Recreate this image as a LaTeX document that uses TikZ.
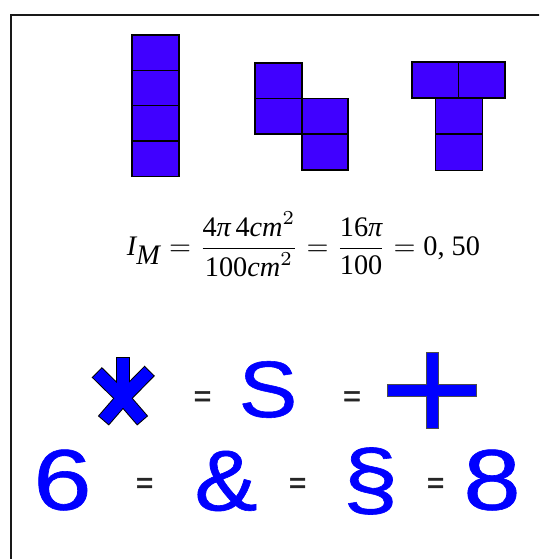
\documentclass[tikz,border=0pt]{standalone}
\usepackage{fontspec}
\setmainfont{Liberation Serif}
\newfontfamily\arialf{Liberation Sans}[FakeBold=0.7]
\newfontfamily\arialeq{Liberation Sans}[FakeBold=1.5]
\definecolor{tetfill}{RGB}{64,0,255}
\definecolor{symblue}{RGB}{0,0,255}
\newcommand\itx[1]{\mbox{\itshape #1}}
\tikzset{
  cell/.style={fill=tetfill, draw=black, line width=1.2pt},
  glyph/.style={inner sep=0pt, outer sep=0pt, text=symblue},
  eqsign/.style={inner sep=0pt, outer sep=0pt, text=black!85, font=\arialeq\fontsize{30}{30}\selectfont},
  bigrow/.style={font=\arialf\fontsize{86}{86}\selectfont},
}
\begin{document}
\begin{tikzpicture}[x=1pt,y=-1pt]
\useasboundingbox (0,0) rectangle (539,559);
\clip (0,0) rectangle (539,559);
% frame
\draw[line width=2pt, black!90] (10.5,580) -- (10.5,15.5) -- (560,15.5);
% I piece
\foreach \ya/\yb in {35/70.3,70.3/105.6,105.6/140.9,140.9/176.2}
  \draw[cell] (132,\ya) rectangle (179,\yb);
% S piece
\draw[cell] (255,63) rectangle (302,98.5);
\draw[cell] (255,98.5) rectangle (302,134);
\draw[cell] (302,98.5) rectangle (348,134);
\draw[cell] (302,134) rectangle (348,170);
% T piece
\draw[cell] (412,62) rectangle (458.5,98);
\draw[cell] (458.5,62) rectangle (505,98);
\draw[cell] (435.5,98) rectangle (482.5,134);
\draw[cell] (435.5,134) rectangle (482.5,170.5);
% formula
\node[inner sep=0pt] (formula) at (303.5,244.5)
  {\resizebox{353pt}{!}{$\displaystyle \itx{I}_{\itx{M}}=\frac{\mbox{4\itshape π\,\upshape 4\itshape cm}^{2}}{\mbox{100\itshape cm}^{2}}=\frac{\mbox{16\itshape π}}{\mbox{100}}=\mbox{0, 50}$}};
% asterisk
\coordinate (ac) at (123,398);
\foreach \t in {(123,358),(97.5,373),(149,371.5),(104,420),(142,420)}
  \draw[black, line width=14.5pt, shorten >=-1pt] (ac) -- \t;
\foreach \t in {(123,358),(97.5,373),(149,371.5),(104,420),(142,420)}
  \draw[symblue, line width=12.5pt] (ac) -- \t;
% plus
\fill[symblue, draw=black!70, line width=0.9pt]
  (426,352) -- (438.3,352) -- (438.3,384.7) -- (476,384.7) -- (476,396.3)
  -- (438.3,396.3) -- (438.3,428.7) -- (426,428.7) -- (426,396.3)
  -- (387,396.3) -- (387,384.7) -- (426,384.7) -- cycle;
% row 1 text
\node[eqsign] (e1) at (202.5,398.8) {=};
\node[glyph, font=\arialf\fontsize{80}{80}\selectfont] (s) at (268,389.5) {\scalebox{1.1}[1]{S}};
\node[eqsign] (e2) at (352,398.8) {=};
% row 2 text
\node[glyph, bigrow] (six) at (62.5,480) {\scalebox{1.22}[1]{6}};
\node[eqsign] (e3) at (144.7,485.5) {=};
\node[glyph, bigrow] (amp) at (226,481) {\scalebox{1.1}[1]{\&}};
\node[eqsign] (e4) at (297.7,485.5) {=};
\node[glyph, font=\arialf\fontsize{83}{83}\selectfont] (sect) at (370.5,481) {\scalebox{1.2}[1]{§}};
\node[eqsign] (e5) at (435.7,485.5) {=};
\node[glyph, bigrow] (eight) at (492,480) {\scalebox{1.2}[1]{8}};
\end{tikzpicture}
\end{document}
